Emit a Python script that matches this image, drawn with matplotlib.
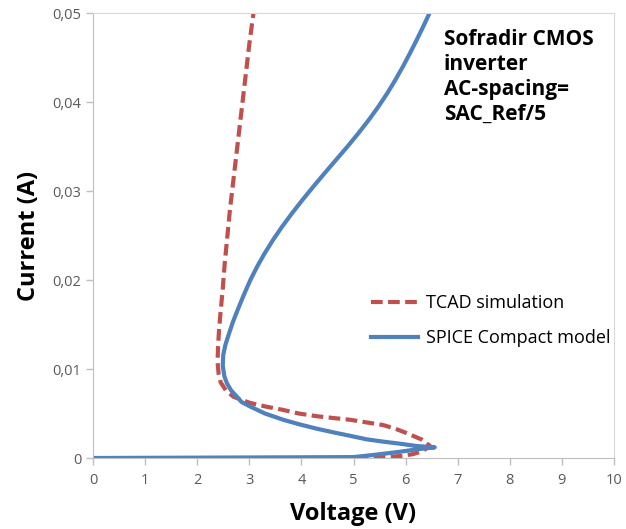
import matplotlib
matplotlib.use("Agg")
from matplotlib import pyplot as plt

# TCAD simulation (dashed red)
tcad_v = [5.06, 5.64, 5.95, 6.15, 6.33, 6.47, 6.3, 6.02, 5.8, 5.57, 5.25, 4.93,
          4.6, 4.29, 3.95, 3.65, 3.3, 3.01, 2.82, 2.69, 2.55, 2.45, 2.41, 2.39,
          2.4, 2.42, 2.45, 2.49, 2.53, 2.58, 2.63, 2.69, 2.76, 2.84, 2.93, 3.0,
          3.08]
tcad_i = [0.0, 0.0001, 0.00025, 0.00045, 0.0008, 0.00135, 0.0021, 0.0028,
          0.0033, 0.0037, 0.004, 0.0043, 0.0045, 0.0047, 0.005, 0.0054, 0.0058,
          0.0062, 0.0066, 0.0069, 0.0076, 0.0085, 0.0095, 0.0108, 0.0125,
          0.0145, 0.0165, 0.019, 0.022, 0.025, 0.028, 0.031, 0.0345, 0.0385,
          0.043, 0.0465, 0.05]

# SPICE compact model (solid blue)
spice_v = [0.0, 5.0, 5.38, 5.89, 6.25, 6.56, 6.21, 5.9, 5.57, 5.25, 4.93, 4.6,
           4.29, 3.95, 3.65, 3.3, 3.01, 2.85, 2.76, 2.65, 2.57, 2.52, 2.49,
           2.5, 2.54, 2.6, 2.68, 2.78, 2.9, 3.02, 3.15, 3.295, 3.455, 3.63,
           3.82, 4.02, 4.23, 4.445, 4.665, 4.885, 5.095, 5.295, 5.48, 5.65,
           5.805, 5.95, 6.085, 6.215, 6.34, 6.46]
spice_i = [0.0, 0.0001, 0.00034, 0.0007, 0.001, 0.0012, 0.00135, 0.0016,
           0.00184, 0.0021, 0.0025, 0.0029, 0.0033, 0.0038, 0.0043, 0.005,
           0.0058, 0.0063, 0.0069, 0.0076, 0.0084, 0.0092, 0.0104, 0.0116,
           0.0127, 0.0138, 0.0152, 0.0167, 0.0184, 0.02, 0.0215, 0.023, 0.0245,
           0.026, 0.0275, 0.029, 0.0305, 0.032, 0.0335, 0.035, 0.0365, 0.038,
           0.0395, 0.041, 0.0425, 0.044, 0.0455, 0.047, 0.0485, 0.05]

x_ticks = list(range(11))
y_ticks = [0, 0.01, 0.02, 0.03, 0.04, 0.05]
y_labels = ["0", "0,01", "0,02", "0,03", "0,04", "0,05"]

plt.rcParams["font.family"] = ["Open Sans", "DejaVu Sans"]

fig = plt.figure(figsize=(6.26, 5.29), dpi=100)
ax = fig.add_axes([0.1486, 0.1342, 0.8322, 0.8412])

ax.plot(tcad_v, tcad_i, color="#C0504D", lw=3.0, ls=(0, (2.8, 1.3)),
        label="TCAD simulation", solid_capstyle="butt")
ax.plot(spice_v, spice_i, color="#4F81BD", lw=3.0, label="SPICE Compact model",
        solid_joinstyle="round")

ax.set_xlim(0, 10)
ax.set_ylim(0, 0.05)
ax.set_xticks(x_ticks)
ax.set_yticks(y_ticks)
ax.set_yticklabels(y_labels)
ax.tick_params(colors="#BFBFBF", labelcolor="#595959", labelsize=10.5,
               length=5, width=1)
ax.tick_params(axis="x", pad=6)
for s in ["left", "bottom"]:
    ax.spines[s].set_color("#BFBFBF")
for s in ["right", "top"]:
    ax.spines[s].set_color("#D9D9D9")

ax.set_xlabel("Voltage (V)", fontsize=17, fontweight="bold", labelpad=10)
ax.set_ylabel("Current (A)", fontsize=17, fontweight="bold", labelpad=8)

ax.text(0.673, 0.965, "Sofradir CMOS\ninverter\nAC-spacing=\nSAC_Ref/5",
        transform=ax.transAxes, fontsize=15, fontweight="bold", va="top",
        ha="left", linespacing=1.25)

ax.legend(loc="upper left", bbox_to_anchor=(0.52, 0.385), frameon=False,
          fontsize=13, handlelength=2.6, handletextpad=0.45, labelspacing=0.95,
          borderaxespad=0)

plt.savefig("out.png", dpi=100)
plt.close()
